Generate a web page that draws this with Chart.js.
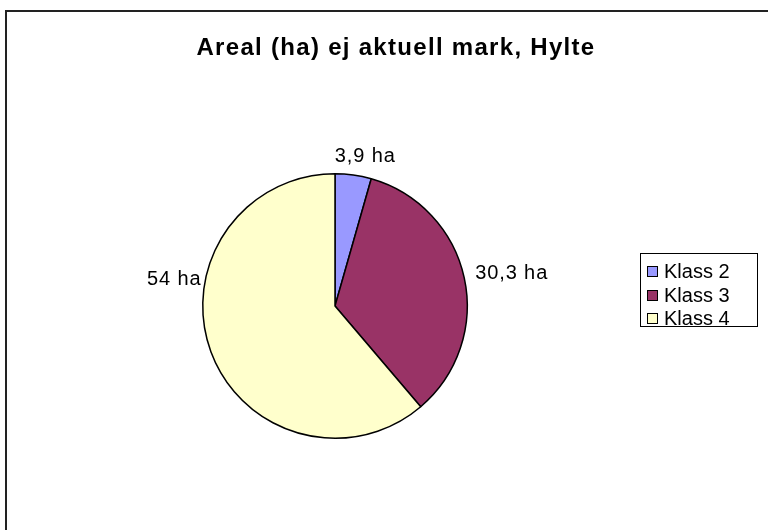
<!DOCTYPE html>
<html>
<head>
<meta charset="utf-8">
<script src="https://cdn.jsdelivr.net/npm/chart.js@4"></script>
<style>
  html, body { margin: 0; padding: 0; background: #fff; overflow: hidden; }
  #wrap { width: 768px; height: 530px; }
</style>
</head>
<body>
<div id="wrap"><canvas id="areal" width="768" height="530"></canvas></div>
<script>
//----- DATA -----//
const categories = ['Klass 2', 'Klass 3', 'Klass 4'];
const areaHa = [3.9, 30.3, 54];
const sliceColors = ['#9999FF', '#993366', '#FFFFCC'];
const chartTitle = 'Areal (ha) ej aktuell mark, Hylte';

// "3.9" -> "3,9 ha"
const haLabel = v => String(v).replace('.', ',') + ' ha';

//----- PLUGINS -----//
// white background, outer frame, title and boxed legend
const frame = {
    id: 'frame',
    beforeDraw(chart) {
        const ctx = chart.ctx;
        ctx.save();
        ctx.fillStyle = '#ffffff';
        ctx.fillRect(0, 0, chart.width, chart.height);
        ctx.strokeStyle = '#222';
        ctx.lineWidth = 2;
        ctx.strokeRect(6, 11, chart.width + 20, chart.height + 20);
        ctx.restore();
    },
    afterDraw(chart) {
        const ctx = chart.ctx;
        ctx.save();
        // title
        ctx.fillStyle = '#000';
        ctx.font = 'bold 24px "Liberation Sans", Arial, sans-serif';
        ctx.letterSpacing = '1.3px';
        ctx.textAlign = 'center';
        ctx.textBaseline = 'alphabetic';
        ctx.fillText(chartTitle, 396, 55);

        // legend
        const ds = chart.data.datasets[0];
        const left = 640, top = 253, rowH = 23.5;
        ctx.strokeStyle = '#000';
        ctx.lineWidth = 1;
        ctx.strokeRect(left + 0.5, top + 0.5, 117, 73);
        ctx.font = '20px "Liberation Sans", Arial, sans-serif';
        ctx.letterSpacing = '0px';
        ctx.textAlign = 'left';
        ctx.textBaseline = 'middle';
        chart.data.labels.forEach((lab, i) => {
            const cy = Math.round(top + 18 + i * rowH);
            ctx.fillStyle = ds.backgroundColor[i];
            ctx.fillRect(647, cy - 5, 10, 10);
            ctx.strokeRect(647.5, cy - 4.5, 10, 10);
            ctx.fillStyle = '#000';
            ctx.fillText(lab, 664, cy + 1);
        });
        ctx.restore();
    }
};

// value labels outside each slice
const sliceLabels = {
    id: 'sliceLabels',
    afterDatasetsDraw(chart, args, opts) {
        const ctx = chart.ctx;
        const meta = chart.getDatasetMeta(0);
        const values = chart.data.datasets[0].data;
        ctx.save();
        ctx.font = '20px "Liberation Sans", Arial, sans-serif';
        ctx.letterSpacing = '0.9px';
        ctx.fillStyle = '#000';
        ctx.textAlign = 'center';
        ctx.textBaseline = 'middle';
        meta.data.forEach((arc, i) => {
            const p = arc.getProps(['x', 'y', 'startAngle', 'endAngle', 'outerRadius'], true);
            const mid = (p.startAngle + p.endAngle) / 2 + (opts.angleShift[i] || 0);
            const c = Math.cos(mid), s = Math.sin(mid);
            const text = haLabel(values[i]);
            const w = ctx.measureText(text).width;
            const r = p.outerRadius + opts.gap[i];
            ctx.fillText(text, p.x + c * r + c * w / 2, p.y + s * r + s * 8);
        });
        ctx.restore();
    }
};

//----- CONFIG -----//
const config = {
    type: 'pie',
    data: {
        labels: categories,
        datasets: [{
            data: areaHa,
            backgroundColor: sliceColors,
            borderColor: '#000',
            borderWidth: 1.5
        }]
    },
    options: {
        responsive: false,
        animation: false,
        layout: { padding: { left: 202, right: 300, top: 173, bottom: 91 } },
        plugins: {
            legend: { display: false },
            title: { display: false },
            tooltip: { enabled: false },
            sliceLabels: { gap: [12, 12, 4], angleShift: [0.035, 0, 0.54] }
        }
    },
    plugins: [frame, sliceLabels]
};

//----- RENDER -----//
const areal = new Chart(document.getElementById('areal'), config);
</script>
</body>
</html>
